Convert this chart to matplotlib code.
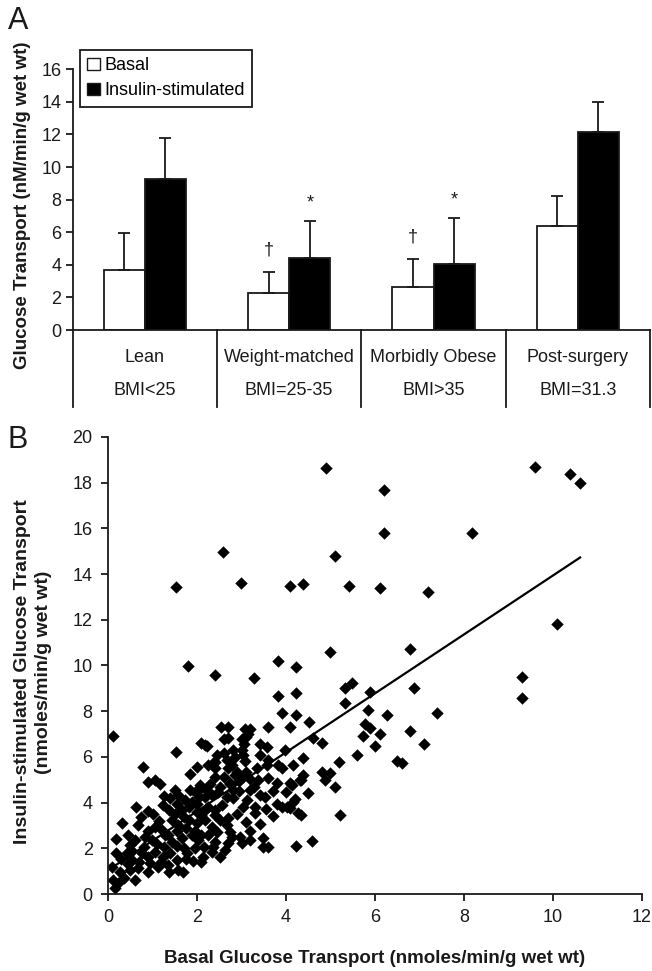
import numpy as np
import matplotlib
matplotlib.use("Agg")
import matplotlib.pyplot as plt
from matplotlib.patches import Patch
from matplotlib.transforms import blended_transform_factory

plt.rcParams['font.family'] = ['Liberation Sans', 'DejaVu Sans']

# ---------------- Panel A data ----------------
categories = ['Lean', 'Weight-matched', 'Morbidly Obese', 'Post-surgery']
bmi_labels = ['BMI<25', 'BMI=25-35', 'BMI>35', 'BMI=31.3']
basal_mean = [3.68, 2.29, 2.62, 6.38]
basal_err = [2.29, 1.29, 1.74, 1.84]
insulin_mean = [9.27, 4.40, 4.03, 12.16]
insulin_err = [2.53, 2.27, 2.86, 1.81]
basal_marks = ['', '\u2020', '\u2020', '']
insulin_marks = ['', '*', '*', '']
series_labels = ['Basal', 'Insulin-stimulated']
yticks_A = [0, 2, 4, 6, 8, 10, 12, 14, 16]

# ---------------- Panel B data ----------------
basal_x = [
    0.12, 1.53, 2.59, 2.99, 4.10, 4.39, 4.89, 5.10, 5.42, 6.21, 6.21, 6.11,
    8.17, 9.60, 10.39, 10.61, 7.18, 10.09, 6.79, 9.30, 9.30,
    1.80, 2.40, 3.27, 3.81, 4.22, 4.99, 3.81, 4.22, 3.92, 4.22, 4.52,
    5.33, 5.49, 5.33, 5.89, 6.88, 5.85, 6.28, 7.39, 5.78, 5.89, 5.72, 6.11,
    6.79, 6.00, 7.10, 5.60, 6.49, 6.61, 5.20, 5.21, 4.59, 4.22, 3.49,
    2.10, 2.18, 2.22, 2.53, 2.70, 2.60, 2.70, 3.08, 3.20, 3.15, 3.00, 3.59,
    4.09, 4.61, 4.80, 3.42, 3.57, 3.98, 3.00, 3.04, 4.39, 4.16, 3.83, 3.90,
    3.42, 2.78, 4.80, 4.99, 4.88, 5.10, 4.39, 4.34, 4.10, 3.80, 3.60, 3.38,
    3.27, 3.19, 4.50, 3.42, 3.53, 2.82, 3.12, 3.04, 4.20, 3.79, 3.90, 4.09,
    4.28, 4.34, 3.71, 3.30, 3.09, 3.42, 2.70, 2.67, 2.74, 2.78, 2.70, 2.63,
    2.97, 3.00, 3.19, 3.49, 3.60, 2.82, 2.85, 2.67, 3.10, 3.05, 3.08, 2.70,
    2.85, 2.95, 3.10, 3.20, 2.75, 3.57, 4.13, 4.31, 4.02, 4.16, 2.35, 2.40,
    2.89, 3.04, 2.74, 2.82, 2.67, 2.40, 2.52, 2.07, 2.22,
    2.60, 2.40, 2.25, 0.91, 1.06, 1.17, 1.51, 1.58, 1.84, 1.96, 2.10, 1.73,
    1.88, 2.18, 2.33, 2.48, 0.62, 0.89, 1.24, 1.36, 1.39, 1.66, 1.81, 1.99,
    2.25, 2.40, 2.56, 0.31, 0.68, 1.06, 1.21, 1.43, 1.58, 1.81, 1.99, 2.18,
    2.33, 2.52, 0.19, 0.49, 0.61, 0.83, 0.98, 1.28, 1.43, 1.66, 1.88, 2.03,
    2.25, 2.40, 0.19, 0.42, 0.53, 0.76, 0.91, 1.06, 1.24, 1.39, 1.54, 1.77,
    1.96, 2.14, 2.10, 2.33, 2.52, 0.08, 0.27, 0.49, 0.68, 0.91, 1.13, 1.36,
    1.58, 1.69, 0.12, 0.23, 0.16, 0.35, 0.61, 0.79, 1.53,
    0.45, 0.70, 0.95, 1.20, 1.35, 1.75, 1.90, 0.30, 0.55, 0.80, 1.10, 1.25,
    1.55, 1.70, 2.15, 2.35, 0.45, 0.90, 1.15, 1.35, 1.55, 1.75, 1.95, 2.10,
    2.45, 0.75, 1.00, 1.50, 1.70, 2.10, 2.40, 2.00, 2.20, 1.55, 1.25, 2.05,
    2.30, 2.60, 1.85, 2.00, 2.45, 3.35, 3.60, 3.30, 3.55, 3.20, 2.90, 2.95,
    3.70, 4.00,
]
insulin_y = [
    6.93, 13.45, 14.95, 13.60, 13.47, 13.57, 18.64, 14.80, 13.47, 17.68, 15.79, 13.40,
    15.79, 18.70, 18.37, 18.00, 13.20, 11.82, 10.71, 9.51, 8.59,
    9.99, 9.58, 9.44, 10.21, 9.92, 10.60, 8.67, 8.81, 7.91, 7.83, 7.54,
    9.00, 9.25, 8.35, 8.85, 9.03, 8.05, 7.83, 7.91, 7.43, 7.25, 6.91, 6.99,
    7.15, 6.49, 6.58, 6.08, 5.82, 5.72, 5.79, 3.46, 2.33, 2.10, 2.07,
    6.60, 6.52, 6.48, 7.29, 7.29, 6.80, 6.81, 7.20, 7.20, 7.00, 6.80, 7.29,
    7.29, 6.81, 6.62, 6.56, 6.45, 6.30, 6.30, 6.08, 5.97, 5.65, 5.65, 5.50,
    6.08, 5.65, 5.35, 5.31, 4.99, 4.70, 5.21, 4.99, 4.84, 4.84, 5.06, 4.99,
    4.70, 4.55, 4.41, 4.33, 4.26, 4.19, 4.11, 3.82, 4.14, 3.94, 3.79, 3.75,
    3.53, 3.46, 3.41, 3.53, 3.16, 3.06, 3.31, 3.02, 2.73, 2.51, 2.22, 1.93,
    2.51, 2.22, 2.36, 2.44, 2.07, 6.30, 6.01, 5.86, 6.85, 6.55, 5.80, 5.50,
    5.20, 4.95, 5.35, 5.05, 4.80, 5.65, 4.77, 4.99, 3.82, 4.04, 5.72, 5.50,
    5.35, 5.13, 4.84, 4.55, 4.26, 5.13, 4.70, 4.77, 4.55,
    6.16, 5.79, 5.64, 4.92, 5.00, 4.80, 4.55, 4.33, 4.55, 4.48, 4.62, 4.11,
    4.04, 4.26, 4.33, 4.48, 3.79, 3.65, 3.89, 3.67, 4.19, 3.67, 3.82, 3.60,
    3.82, 3.67, 3.89, 3.09, 3.02, 2.95, 2.80, 3.24, 3.02, 3.24, 3.09, 3.24,
    2.95, 3.24, 2.39, 2.14, 2.36, 2.51, 2.36, 2.58, 2.29, 2.43, 2.58, 2.36,
    2.58, 2.29, 1.81, 1.78, 1.48, 1.78, 1.63, 1.85, 1.63, 1.78, 1.48, 1.78,
    2.00, 1.63, 1.41, 1.85, 1.63, 1.19, 0.97, 1.05, 1.12, 0.97, 1.19, 0.97,
    1.05, 0.97, 0.60, 0.47, 0.25, 0.69, 0.62, 5.54, 6.23,
    1.30, 1.40, 1.35, 1.40, 1.25, 1.55, 1.45, 1.55, 1.90, 2.05, 2.20, 2.05,
    2.10, 2.00, 2.05, 2.05, 2.60, 2.75, 3.20, 2.60, 2.75, 2.90, 2.75, 2.60,
    2.70, 3.35, 3.50, 3.50, 3.35, 3.45, 3.45, 3.95, 3.70, 3.95, 4.30, 4.25,
    4.80, 5.10, 5.25, 5.55, 6.10, 5.50, 5.85, 3.80, 3.70, 2.75, 3.50, 4.50,
    4.50, 4.45,
]
trend_slope = 1.29
trend_intercept = 1.04
xticks_B = [0, 2, 4, 6, 8, 10, 12]
yticks_B = [0, 2, 4, 6, 8, 10, 12, 14, 16, 18, 20]

W, H = 652, 971
fig = plt.figure(figsize=(W / 100, H / 100), dpi=100)
ink = '#1a1a1a'
fs = 13

# ================= Panel A =================
axA = fig.add_axes([72.7 / W, 1 - 330 / H, (650 - 72.7) / W, (330 - 69.3) / H])
x = np.arange(len(categories))
bw = 0.285
ekw = dict(ecolor=ink, elinewidth=1.3, capsize=4, capthick=1.3)
axA.bar(x - bw / 2, basal_mean, bw, color='white', edgecolor=ink, linewidth=1.3,
        yerr=[np.zeros(len(x)), basal_err], error_kw=ekw, zorder=2)
axA.bar(x + bw / 2, insulin_mean, bw, color='black', edgecolor=ink, linewidth=1.3,
        yerr=[np.zeros(len(x)), insulin_err], error_kw=ekw, zorder=2)
for i in range(len(x)):
    if basal_marks[i]:
        axA.text(x[i] - bw / 2, basal_mean[i] + basal_err[i] + 1.35, basal_marks[i],
                 ha='center', va='center', fontsize=fs, color=ink)
    if insulin_marks[i]:
        axA.text(x[i] + bw / 2, insulin_mean[i] + insulin_err[i] + 1.1, insulin_marks[i],
                 ha='center', va='center', fontsize=fs, color=ink)

axA.set_xlim(-0.5, len(categories) - 0.5)
axA.set_ylim(0, 16)
axA.set_yticks(yticks_A)
axA.set_xticks([])
for s in ['top', 'right']:
    axA.spines[s].set_visible(False)
for s in ['left', 'bottom']:
    axA.spines[s].set_linewidth(1.3)
    axA.spines[s].set_color(ink)
axA.tick_params(axis='y', direction='out', length=5, width=1.3, colors=ink,
                labelsize=fs, pad=3)

# category table under the axis
tr = blended_transform_factory(axA.transData, axA.transAxes)
for b in np.arange(-0.5, len(categories), 1.0):
    axA.plot([b, b], [0, -0.295], transform=tr, color=ink, lw=1.3, clip_on=False)
for i in range(len(categories)):
    axA.text(x[i], -0.107, categories[i], transform=tr, ha='center', va='center',
             fontsize=fs, color=ink)
    axA.text(x[i], -0.232, bmi_labels[i], transform=tr, ha='center', va='center',
             fontsize=fs, color=ink)

handles = [Patch(facecolor='white', edgecolor=ink, linewidth=1.0),
           Patch(facecolor='black', edgecolor=ink, linewidth=1.0)]
leg = axA.legend(handles, series_labels, loc='upper left', bbox_to_anchor=(0.0126, 1.074),
                 frameon=True, fancybox=False, framealpha=1, edgecolor=ink,
                 handlelength=0.7, handleheight=0.7, handletextpad=0.25,
                 borderpad=0.4, labelspacing=0.45, borderaxespad=0, fontsize=fs)
leg.get_frame().set_linewidth(1.3)

fig.text(22.7 / W, 1 - 205 / H, 'Glucose Transport (nM/min/g wet wt)', rotation=90,
         ha='center', va='center', fontsize=13.5, fontweight='bold', color=ink)
fig.text(18 / W, 1 - 21 / H, 'A', ha='center', va='center', fontsize=22, color=ink)

# ================= Panel B =================
axB = fig.add_axes([108 / W, 1 - 894 / H, (642 - 108) / W, (894 - 437) / H])
axB.scatter(basal_x, insulin_y, marker='D', s=40, color='black', linewidths=0, zorder=2)
bx = np.array([min(basal_x), max(basal_x)])
axB.plot(bx, trend_intercept + trend_slope * bx, color='black', lw=1.6, zorder=3)
axB.set_xlim(0, 12)
axB.set_ylim(0, 20)
axB.set_xticks(xticks_B)
axB.set_yticks(yticks_B)
for s in ['top', 'right']:
    axB.spines[s].set_visible(False)
for s in ['left', 'bottom']:
    axB.spines[s].set_linewidth(1.3)
    axB.spines[s].set_color(ink)
axB.tick_params(direction='out', length=5, width=1.3, colors=ink, labelsize=fs, pad=6)

fig.text(375 / W, 1 - 958 / H, 'Basal Glucose Transport (nmoles/min/g wet wt)',
         ha='center', va='center', fontsize=13.5, fontweight='bold', color=ink)
fig.text(33 / W, 1 - 672 / H, 'Insulin-stimulated Glucose Transport\n(nmoles/min/g wet wt)',
         rotation=90, ha='center', va='center', multialignment='center',
         fontsize=14, fontweight='bold', color=ink, linespacing=1.25)
fig.text(18 / W, 1 - 440 / H, 'B', ha='center', va='center', fontsize=22, color=ink)

fig.savefig('out.png', dpi=100)
